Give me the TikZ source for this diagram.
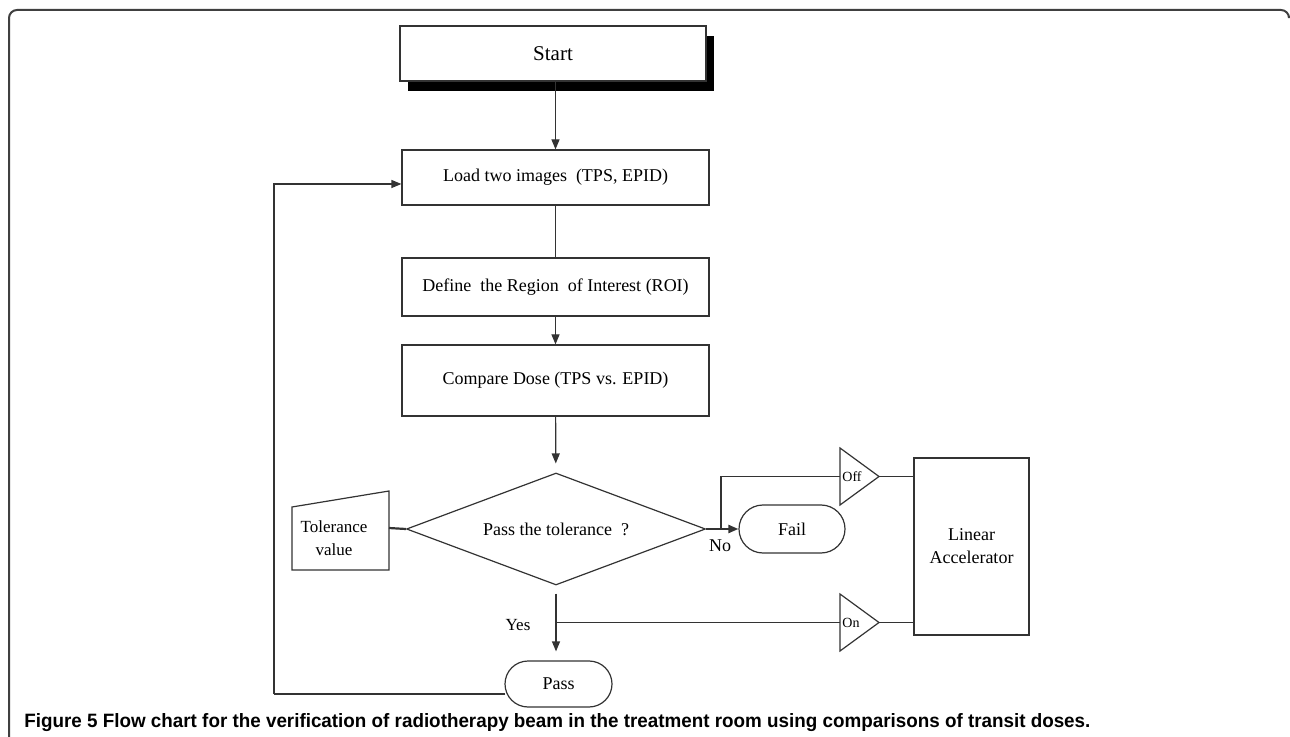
\documentclass[tikz,border=0pt]{standalone}
\usepackage{fontspec}
\setmainfont{Liberation Serif}
\newfontfamily\capfont{Liberation Sans}
\usetikzlibrary{arrows.meta,shapes.geometric,shapes.misc,shadows}
\begin{document}
\begin{tikzpicture}[x=0.5pt,y=-0.5pt,
  ln/.style={draw=black!80, line width=0.6pt},
  arr/.style={ln, -{Triangle[length=5pt,width=4pt]}},
  box/.style={ln, rectangle, fill=white, inner sep=0pt, align=center, font=\fontsize{9}{11.5}\selectfont},
  term/.style={ln, rounded rectangle, fill=white, inner sep=0pt, font=\fontsize{9}{11}\selectfont},
  dec/.style={ln, diamond, aspect=2.67, fill=white, inner sep=0pt, font=\fontsize{9}{11}\selectfont},
  lbl/.style={inner sep=0pt, align=center, font=\fontsize{9}{11.5}\selectfont}]
\useasboundingbox (0,0) rectangle (1290,737);
% frame
\draw[line width=1pt, black!75, rounded corners=4pt] (9,745) -- (9,10) -- (1289,10) -- (1289,16);
% nodes
\node[box, minimum width=153pt, minimum height=27.5pt, font=\fontsize{10.5}{12}\selectfont,
  drop shadow={shadow xshift=4pt, shadow yshift=-5pt, fill=black, opacity=1, draw=none}] (start) at (553,53.5) {Start};
\node[box, minimum width=153.5pt, minimum height=27.5pt] (load) at (555.5,177.5) {Load two images\ \ (TPS, EPID)};
\node[box, minimum width=153.5pt, minimum height=29pt] (define) at (555.5,287) {Define\ \ the Region\ \ of Interest\ (ROI)};
\node[box, minimum width=153.5pt, minimum height=35.5pt] (compare) at (555.5,380.5) {Compare Dose (TPS vs. EPID)};
\node[dec, minimum width=149.5pt, minimum height=56pt] (dia) at (556,529) {Pass the\ tolerance\ \ ?};
\node[term, minimum width=53pt, minimum height=24pt] (fail) at (792,529) {Fail};
\node[term, minimum width=53.5pt, minimum height=23pt] (pass) at (558.5,684) {Pass};
\node[box, minimum width=57.5pt, minimum height=88.5pt] (linac) at (971.5,546.5) {Linear\\Accelerator};
% tolerance input
\draw[ln] (292,507) -- (389,491) -- (389,570) -- (292,570) -- cycle;
\node[lbl, font=\fontsize{8.5}{11.5}\selectfont] (tol) at (334,538) {Tolerance\\value};
\coordinate (tolR) at (389,528);
% off / on triangles
\draw[ln] (840,448) -- (879,476.5) -- (840,505) -- cycle;
\coordinate (offL) at (840,476.5);
\coordinate (offR) at (879,476.5);
\node[lbl, font=\fontsize{7}{8}\selectfont] (off) at (852,476.5) {Off};
\draw[ln] (840,594) -- (879,622.5) -- (840,651) -- cycle;
\coordinate (onL) at (840,622.5);
\coordinate (onR) at (879,622.5);
\node[lbl, font=\fontsize{7}{8}\selectfont] (on) at (851,622.5) {On};
% labels
\node[lbl] (no) at (720,546) {No};
\node[lbl, font=\fontsize{8.5}{10}\selectfont] (yes) at (518,625) {Yes};
% connectors
\draw[arr] (load.north |- start.south) -- (load.north);
\draw[ln] (load) -- (define);
\draw[arr] (define) -- (compare);
\draw[arr, shorten >=4.5pt] (compare) -- (dia);
\draw[ln, line width=1.1pt] (tolR) -- (dia.west);
\draw[arr, line width=1.1pt] (dia.east) -- (fail.west);
\coordinate (br) at (721,529);
\draw[ln] (br) |- (offL);
\draw[ln] (offR) -- (offR -| linac.west);
\draw[arr, shorten <=4pt, shorten >=4.5pt] (dia.south) -- (dia.south |- pass.north);
\coordinate (yb) at (556,622.5);
\draw[ln] (yb) -- (onL);
\draw[ln] (onR) -- (onR -| linac.west);
\coordinate (lp) at (274,694);
\coordinate (lq) at (274,184);
\draw[ln] (lp -| pass.west) ++(1,0) -- (lp);
\draw[arr] (lp) -- (lq) -- (lq -| load.west);
% caption
\node[anchor=base west, inner sep=0pt] (cap) at (24,727) {\resizebox{533pt}{7pt}{\capfont\bfseries Figure 5 Flow chart for the verification of radiotherapy beam in the treatment room using comparisons of transit doses.}};
\end{tikzpicture}
\end{document}
